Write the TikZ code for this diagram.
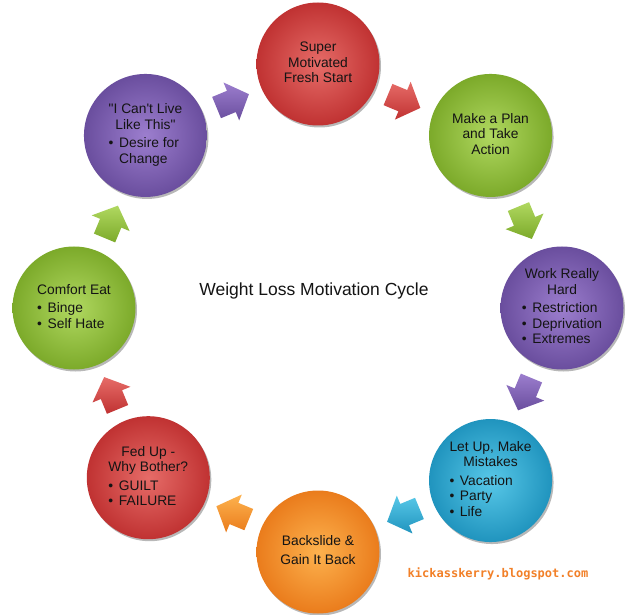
\documentclass[tikz,border=0pt]{standalone}
\usepackage{fontspec}
\setmainfont{Liberation Sans}
\newfontfamily\wmfont{DejaVu Sans Mono}
\usetikzlibrary{shadows,calc}
\definecolor{txt}{RGB}{20,20,20}
\definecolor{redL}{RGB}{230,108,104}
\definecolor{redD}{RGB}{192,50,50}
\definecolor{greenL}{RGB}{176,216,96}
\definecolor{greenD}{RGB}{124,170,42}
\definecolor{purpleL}{RGB}{156,126,206}
\definecolor{purpleD}{RGB}{106,78,158}
\definecolor{blueL}{RGB}{88,200,232}
\definecolor{blueD}{RGB}{32,148,190}
\definecolor{orangeL}{RGB}{253,178,78}
\definecolor{orangeD}{RGB}{234,124,28}
\definecolor{wm}{RGB}{242,128,40}
\newcommand{\bt}[1]{\makebox[10.5pt][l]{\textbullet}#1}
\newcommand{\hd}[1]{\multicolumn{1}{@{}c@{}}{#1}}
\tikzset{
  orb/.style={circle, minimum size=123pt, inner sep=0pt,
    inner color=#1L, outer color=#1D,
    drop shadow={shadow xshift=1.5pt, shadow yshift=-2pt, opacity=0.28, fill=black},
    text=txt, font=\fontsize{13.8}{15.5}\selectfont},
  arr/.style={top color=#1L, bottom color=#1D,
    drop shadow={shadow xshift=1pt, shadow yshift=-1.5pt, opacity=0.25, fill=black}},
  blockarrow/.pic={\path[pic actions] (-17,-11.5) -- (-1,-11.5) -- (-1,-20.5) -- (18,0)
    -- (-1,20.5) -- (-1,11.5) -- (-17,11.5) -- cycle;}
}
\begin{document}
\begin{tikzpicture}[x=1pt,y=1pt]
\useasboundingbox (0,0) rectangle (640,614);
\fill[white] (0,0) rectangle (640,614);
\coordinate (C) at (318,306);
% circles
\node[orb=red] (n1) at ($(C)+(90:244)$)
  {\raisebox{-3pt}{\begin{tabular}{@{}c@{}}Super\\Motivated\\Fresh Start\end{tabular}}};
\node[orb=green] (n2) at ($(C)+(45:244)$)
  {\begin{tabular}{@{}c@{}}Make a Plan\\and Take\\Action\end{tabular}};
\node[orb=purple] (n3) at ($(C)+(0:244)$)
  {\begin{tabular}{@{}l@{}}\hd{Work Really}\\\hd{Hard}\\[3pt]\bt{Restriction}\\\bt{Deprivation}\\\bt{Extremes}\end{tabular}};
\node[orb=blue] (n4) at ($(C)+(-45:244)$)
  {\begin{tabular}{@{}l@{}}\hd{Let Up, Make}\\\hd{Mistakes}\\[3pt]\bt{Vacation}\\\bt{Party}\\\bt{Life}\end{tabular}};
\node[orb=orange] (n5) at ($(C)+(-90:244)$)
  {\begin{tabular}{@{}c@{}}Backslide \&\\[3pt]Gain It Back\end{tabular}};
\node[orb=red] (n6) at ($(C)+(-135:240)$)
  {\begin{tabular}{@{}l@{}}\hd{Fed Up -}\\\hd{Why Bother?}\\[3pt]\bt{GUILT}\\\bt{FAILURE}\end{tabular}};
\node[orb=green] (n7) at ($(C)+(180:244)$)
  {\begin{tabular}{@{}l@{}}\hd{Comfort Eat}\\[3pt]\bt{Binge}\\\bt{Self Hate}\end{tabular}};
\node[orb=purple] (n8) at ($(C)+(135:244)$)
  {\begin{tabular}{@{}l@{}}\hd{\textquotedbl I Can\textquotesingle t Live}\\\hd{Like This\textquotedbl}\\[3pt]\bt{Desire for}\\\hspace{10.5pt}Change\end{tabular}};
% arrows
\pic[arr=red, rotate=-22.5] at ($(C)+(67.5:224)$) {blockarrow};
\pic[arr=green, rotate=-67.5] at ($(C)+(22.5:224)$) {blockarrow};
\pic[arr=purple, rotate=-112.5] at ($(C)+(-22.5:224)$) {blockarrow};
\pic[arr=blue, rotate=-157.5] at ($(C)+(-67.5:224)$) {blockarrow};
\pic[arr=orange, rotate=157.5] at ($(C)+(-112.5:222)$) {blockarrow};
\pic[arr=red, rotate=112.5] at ($(C)+(-157.5:224)$) {blockarrow};
\pic[arr=green, rotate=67.5] at ($(C)+(157.5:224)$) {blockarrow};
\pic[arr=purple, rotate=22.5] at ($(C)+(112.5:224)$) {blockarrow};
% texts
\node[text=txt] (title) at (314,323) {\fontsize{17.5}{20}\selectfont Weight Loss Motivation Cycle};
\node[text=wm] (mark) at (498,40) {\wmfont\bfseries\fontsize{12}{14}\selectfont kickasskerry.blogspot.com};
\end{tikzpicture}
\end{document}
